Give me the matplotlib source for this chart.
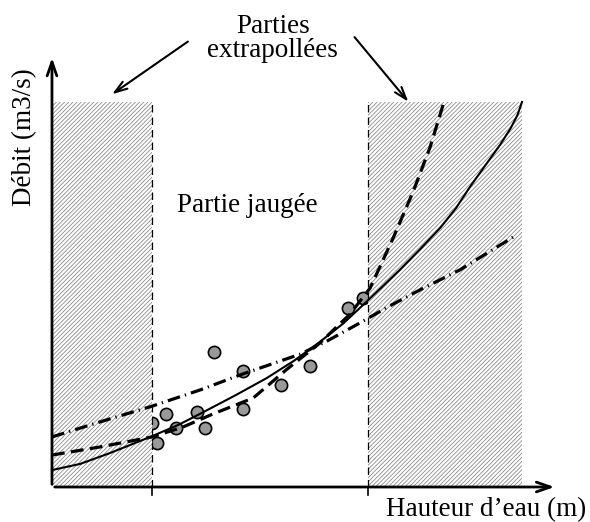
import numpy as np
import matplotlib
matplotlib.use('Agg')
import matplotlib.pyplot as plt

plt.rcParams['font.family'] = ['Liberation Serif', 'DejaVu Serif']
plt.rcParams['hatch.linewidth'] = 0.6
plt.rcParams['hatch.color'] = '#8c8c8c'

# gauged points (water height, discharge)
h_obs = [2.13, 2.23, 2.43, 2.64, 3.09, 3.26, 3.45, 4.06, 4.06, 4.87, 5.49, 6.30, 6.62]
q_obs = [1.66, 1.14, 1.90, 1.53, 1.95, 1.53, 3.51, 3.01, 2.03, 2.65, 3.14, 4.65, 4.91]

# rating curves
h_solid = [0, 0.6, 1.23, 2.13, 2.70, 3.15, 3.90, 4.57, 5.15, 5.70, 6.20, 6.62,
           7.00, 7.40, 7.85, 8.26, 8.60, 8.89, 9.20, 9.53, 9.75, 9.90, 10.0]
q_solid = [0.44, 0.60, 0.88, 1.32, 1.62, 1.90, 2.38, 2.83, 3.28, 3.77, 4.25, 4.73,
           5.17, 5.64, 6.20, 6.73, 7.25, 7.79, 8.32, 8.88, 9.30, 9.65, 10.0]

h_dash = [0, 1.02, 2.13, 2.79, 3.43, 4.28, 5.00, 5.70, 6.34, 6.77, 7.26, 7.68, 8.04, 8.34]
q_dash = [0.83, 1.04, 1.30, 1.56, 1.90, 2.31, 3.06, 3.74, 4.49, 5.17, 6.47, 7.66, 8.81, 10.0]

h_dd = [0, 1.02, 2.13, 3.15, 4.00, 5.28, 5.85, 6.55, 7.15, 7.83, 8.68, 9.89]
q_dd = [1.30, 1.69, 2.10, 2.52, 2.91, 3.45, 3.79, 4.26, 4.68, 5.12, 5.64, 6.55]

h_min, h_max = 2.13, 6.72   # gauged range
h_end, q_top = 10.0, 10.0

fig = plt.figure(figsize=(5.9, 5.22), dpi=100)
ax = fig.add_axes([0, 0, 1, 1])
ax.set_xlim(-1.106, 11.447)
ax.set_ylim(-0.909, 12.649)
ax.axis('off')

# points
ax.plot(h_obs, q_obs, 'o', ms=8.8, mfc='#999999', mec='black', mew=1.2, zorder=1)

# extrapolated zones
ax.fill_between([0, h_min], 0, q_top, facecolor='white', edgecolor='#8c8c8c',
                hatch='////////', linewidth=0, zorder=2)
ax.fill_between([h_max, h_end], 0, q_top, facecolor='white', edgecolor='#8c8c8c',
                hatch='////////', linewidth=0, zorder=2)
for xv in [h_min, h_max]:
    ax.plot([xv, xv], [0, q_top], color='black', lw=0.9, dashes=(6, 4), zorder=3)
    ax.plot([xv, xv], [0, -0.22], color='black', lw=1.2, zorder=3)

# curves
ax.plot(h_solid, q_solid, color='black', lw=1.5, zorder=4)
ax.plot(h_dash, q_dash, color='black', lw=2.3, dashes=(4, 2), zorder=4)
ax.plot(h_dd, q_dd, color='black', lw=2.3, dashes=(4, 1.6, 0.4, 1.6), zorder=4)

# axes arrows
ax.annotate('', xy=(10.75, 0), xytext=(0, 0),
            arrowprops=dict(arrowstyle='->,head_length=1.0,head_width=0.35', lw=2, color='black'),
            zorder=5)
ax.annotate('', xy=(0, 11.22), xytext=(0, 0),
            arrowprops=dict(arrowstyle='->,head_length=1.0,head_width=0.35', lw=2, color='black'),
            zorder=5)

ax.text(11.36, -0.60, 'Hauteur d\u2019eau (m)', fontsize=19.5, ha='right', va='center')
ax.text(-0.574, 9.09, 'D\u00e9bit (m3/s)', fontsize=19.5, rotation=90, ha='center', va='center')
ax.text(2.66, 7.32, 'Partie jaug\u00e9e', fontsize=19.5, ha='left', va='center')
ax.text(4.70, 11.64, 'Parties\nextrapoll\u00e9es', fontsize=19.5, ha='center', va='center',
        multialignment='center', linespacing=0.95)

ax.annotate('', xy=(1.23, 10.16), xytext=(2.94, 11.61),
            arrowprops=dict(arrowstyle='->,head_length=0.9,head_width=0.3', lw=1.5, color='black'))
ax.annotate('', xy=(7.62, 9.95), xytext=(6.40, 11.74),
            arrowprops=dict(arrowstyle='->,head_length=0.9,head_width=0.3', lw=1.5, color='black'))

plt.savefig('out.png', dpi=100)
